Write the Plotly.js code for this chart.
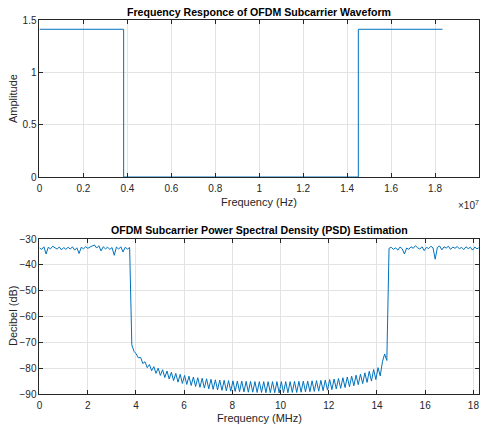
<!DOCTYPE html>
<html>
<head>
<meta charset="utf-8">
<script src="https://cdn.plot.ly/plotly-3.0.1.min.js"></script>
<style>html,body{margin:0;padding:0;background:#fff;}#chart{width:481px;height:425px;}</style>
</head>
<body>
<div id="chart"></div>
<script>
// ---- Top plot: frequency response (Hz) ----
var respFreqHz = [0, 3.83e6, 3.83e6, 1.451e7, 1.451e7, 1.834e7];
var respAmp = [1.4142, 1.4142, 0, 0, 1.4142, 1.4142];
var topTickVals = [0, 2e6, 4e6, 6e6, 8e6, 1e7, 1.2e7, 1.4e7, 1.6e7, 1.8e7, 2e7];
var topTickText = ['0', '0.2', '0.4', '0.6', '0.8', '1', '1.2', '1.4', '1.6', '1.8', '2'];
var ampTickVals = [0, 0.5, 1, 1.5];
var ampTickText = ['0', '0.5', '1', '1.5'];

// ---- Bottom plot: PSD estimate (dB), sampled every binStepMHz ----
var binStepMHz = 0.0912;
var psdDb = [
  // passband (0 .. 3.74 MHz)
  -33.5, -34.0, -33.0, -35.8, -33.2, -33.8, -32.8, -33.4, -33.9, -33.1,
  -34.2, -33.3, -34.0, -33.2, -33.9, -33.0, -34.3, -33.4, -35.6, -33.2,
  -33.8, -33.0, -33.6, -33.1, -32.6, -32.3, -33.5, -32.6, -34.6, -33.0,
  -33.8, -33.2, -34.0, -33.3, -36.3, -33.1, -33.9, -33.0, -35.0, -33.2,
  -33.9, -33.3,
  // stopband (3.83 .. 14.41 MHz)
  -71.0, -73.5, -74.5, -76.0, -75.8, -78.2, -77.5, -79.8, -78.6, -81.0,
  -79.4, -82.0, -80.0, -82.8, -80.6, -83.6, -81.1, -84.2, -81.6, -84.8,
  -82.0, -85.4, -82.4, -85.9, -82.8, -86.3, -83.1, -86.7, -83.4, -87.1,
  -83.7, -87.4, -83.9, -87.7, -84.1, -88.0, -84.3, -88.2, -84.5, -88.4,
  -84.6, -88.6, -84.7, -88.8, -84.8, -88.9, -84.9, -89.0, -85.0, -89.1,
  -85.0, -89.2, -85.1, -89.3, -85.1, -89.3, -85.2, -89.4, -85.2, -89.4,
  -85.2, -89.5, -85.2, -89.5, -85.2, -89.5, -85.2, -89.6, -85.2, -89.5,
  -85.2, -89.5, -85.2, -89.4, -85.1, -89.4, -85.1, -89.3, -85.0, -89.2,
  -85.0, -89.1, -84.9, -89.0, -84.8, -88.9, -84.7, -88.7, -84.6, -88.5,
  -84.4, -88.3, -84.2, -88.0, -84.0, -87.8, -83.7, -87.5, -83.4, -87.2,
  -83.1, -86.8, -82.7, -86.4, -82.3, -86.0, -81.8, -85.5, -81.2, -85.0,
  -80.5, -84.4, -79.8, -83.0, -77.5, -74.5, -77.0,
  // passband (14.50 .. 18.24 MHz)
  -33.6, -33.2, -34.0, -33.4, -34.3, -33.1, -33.8, -35.8, -33.5, -34.0,
  -33.0, -33.6, -32.6, -33.4, -33.9, -33.0, -34.5, -33.2, -33.7, -32.8,
  -33.4, -37.8, -33.2, -32.7, -34.2, -33.0, -33.5, -32.8, -34.0, -33.1,
  -33.6, -32.9, -33.8, -33.2, -34.1, -33.0, -33.7, -33.2, -34.3, -33.1,
  -33.8, -33.3
];
var psdFreqMHz = psdDb.map(function (_, i) { return i * binStepMHz; });
var botTickVals = [0, 2, 4, 6, 8, 10, 12, 14, 16, 18];
var dbTickVals = [-90, -80, -70, -60, -50, -40, -30];

var lineColor = '#0072BD';
var axisColor = '#262626';
var gridColor = '#e3e3e3';
var fontFam = '"Liberation Sans", Arial, sans-serif';

var axisCommon = {
  showline: true, linecolor: axisColor, linewidth: 1, mirror: 'ticks',
  ticks: 'inside', ticklen: 4, tickcolor: axisColor, tickwidth: 1,
  showgrid: true, gridcolor: gridColor, gridwidth: 1, zeroline: false,
  tickfont: {family: fontFam, size: 10, color: axisColor}
};
function ax(extra) { return Object.assign({}, axisCommon, extra); }

var traces = [
  {x: respFreqHz, y: respAmp, type: 'scatter', mode: 'lines', xaxis: 'x', yaxis: 'y',
   line: {color: lineColor, width: 1}, hoverinfo: 'skip'},
  {x: psdFreqMHz, y: psdDb, type: 'scatter', mode: 'lines', xaxis: 'x2', yaxis: 'y2',
   line: {color: lineColor, width: 1}, hoverinfo: 'skip'}
];

var layout = {
  width: 481, height: 425,
  margin: {l: 0, r: 0, t: 0, b: 0},
  paper_bgcolor: '#ffffff', plot_bgcolor: '#ffffff',
  showlegend: false,
  xaxis: ax({domain: [0.0821, 0.9958], range: [0, 2e7], tickmode: 'array',
             tickvals: topTickVals, ticktext: topTickText, anchor: 'y', ticklabelstandoff: 2}),
  yaxis: ax({domain: [0.5835, 0.9522], range: [0, 1.5], tickmode: 'array',
             tickvals: ampTickVals, ticktext: ampTickText, anchor: 'x'}),
  xaxis2: ax({domain: [0.0821, 0.9952], range: [0, 18.22], tickmode: 'array',
              tickvals: botTickVals, anchor: 'y2', ticklabelstandoff: 2}),
  yaxis2: ax({domain: [0.0729, 0.4376], range: [-90, -30], tickmode: 'array',
              tickvals: dbTickVals, anchor: 'x2'}),
  annotations: [
    {text: '<b>Frequency Responce of OFDM Subcarrier Waveform</b>', xref: 'paper', yref: 'paper',
     x: 0.539, y: (425 - 12) / 425, xanchor: 'center', yanchor: 'middle', showarrow: false,
     font: {family: fontFam, size: 10.6, color: '#000'}},
    {text: '<b>OFDM Subcarrier Power Spectral Density (PSD) Estimation</b>', xref: 'paper', yref: 'paper',
     x: 0.539, y: (425 - 230) / 425, xanchor: 'center', yanchor: 'middle', showarrow: false,
     font: {family: fontFam, size: 10.6, color: '#000'}},
    {text: 'Frequency (Hz)', xref: 'paper', yref: 'paper',
     x: 0.539, y: (425 - 202) / 425, xanchor: 'center', yanchor: 'middle', showarrow: false,
     font: {family: fontFam, size: 11, color: axisColor}},
    {text: 'Frequency (MHz)', xref: 'paper', yref: 'paper',
     x: 0.539, y: (425 - 418) / 425, xanchor: 'center', yanchor: 'middle', showarrow: false,
     font: {family: fontFam, size: 11, color: axisColor}},
    {text: 'Amplitude', xref: 'paper', yref: 'paper', textangle: -90,
     x: 13 / 481, y: (425 - 99) / 425, xanchor: 'center', yanchor: 'middle', showarrow: false,
     font: {family: fontFam, size: 11, color: axisColor}},
    {text: 'Decibel (dB)', xref: 'paper', yref: 'paper', textangle: -90,
     x: 13 / 481, y: (425 - 316) / 425, xanchor: 'center', yanchor: 'middle', showarrow: false,
     font: {family: fontFam, size: 11, color: axisColor}},
    {text: '\u00d710<sup>7</sup>', xref: 'paper', yref: 'paper',
     x: 481 / 481, y: (425 - 205) / 425, xanchor: 'right', yanchor: 'middle', showarrow: false,
     font: {family: fontFam, size: 10, color: axisColor}}
  ]
};

Plotly.newPlot('chart', traces, layout, {staticPlot: true, displayModeBar: false});
</script>
</body>
</html>
